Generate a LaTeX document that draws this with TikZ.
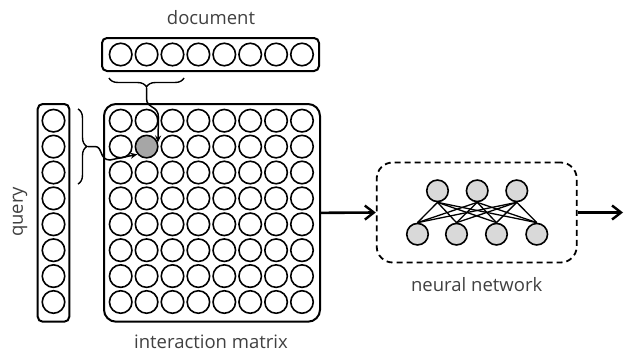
\documentclass[tikz,border=0pt]{standalone}
\usepackage{fontspec}
\setmainfont{Open Sans}
\usetikzlibrary{arrows.meta,decorations.pathreplacing}
\definecolor{txt}{HTML}{404040}
\definecolor{cellgrey}{HTML}{A6A6A6}
\definecolor{nngrey}{HTML}{D9D9D9}
\tikzset{
  cell/.style={circle,draw,line width=1.6pt,minimum size=22.5pt,inner sep=0pt},
  hot/.style={cell,fill=cellgrey},
  frame/.style={draw,line width=2pt,rounded corners=5pt,inner sep=0pt},
  nnbox/.style={draw,line width=1.8pt,dash pattern=on 6pt off 4pt,rounded corners=16pt,inner sep=0pt,minimum width=200pt,minimum height=100pt},
  neuron/.style={circle,draw,line width=1.6pt,fill=nngrey,minimum size=21.5pt,inner sep=0pt},
  edge/.style={line width=1.3pt},
  lbl/.style={text=txt,font=\fontsize{18.5}{22}\selectfont,inner sep=0pt},
  bigarrow/.style={line width=2.6pt,-{Straight Barb[length=9pt,width=14pt,line width=2.4pt]}},
  smallarrow/.style={line width=1.5pt,-{Stealth[length=7pt,width=6pt]}},
  bracestyle/.style={line width=1.4pt,decorate,decoration={brace,amplitude=9pt}}
}
\begin{document}
\begin{tikzpicture}[x=1pt,y=-1pt]
\useasboundingbox (0,0) rectangle (625,356);
% frames
\node[frame,minimum width=217pt,minimum height=33pt] (doc) at (210.5,54.5) {};
\node[frame,minimum width=31.6pt,minimum height=217.7pt] (qry) at (53.5,212.85) {};
\node[frame,rounded corners=12pt,minimum width=216pt,minimum height=217.7pt] (mat) at (212,212.85) {};
% document and query cells
\foreach \i in {0,...,7} {
  \node[cell] (d\i) at (120.7+25.9*\i,54.5) {};
  \node[cell] (q\i) at (53.5,120.7+25.9*\i) {};
}
% matrix cells
\foreach \i in {0,...,7} {
  \foreach \j in {0,...,7} {
    \ifnum\i=1 \ifnum\j=1 \else \node[cell] (m\i\j) at (120.7+25.9*\i,120.7+25.9*\j) {}; \fi
    \else \node[cell] (m\i\j) at (120.7+25.9*\i,120.7+25.9*\j) {}; \fi
  }
}
\node[hot] (m11) at (146.6,146.6) {};
% labels
\node[lbl] (ldoc) at (211,18) {document};
\node[lbl,rotate=90] (lq) at (20,212) {query};
\node[lbl] (lmat) at (211,342) {interaction matrix};
% braces
\coordinate (db1) at (184,78);
\coordinate (db2) at (109,78);
\draw[bracestyle] (db1) -- (db2);
\coordinate (qb1) at (78,109);
\coordinate (qb2) at (78,184);
\draw[bracestyle] (qb1) -- (qb2);
\coordinate (dtip) at (146.5,88);
\coordinate (qtip) at (88,146.5);
% small arrows
\draw[smallarrow] (dtip) -- (146.5,98) .. controls (146.5,110) and (158.5,104) .. (158.5,118) -- (m11.20);
\draw[smallarrow] (qtip) -- (95,146.5) .. controls (103,146.5) and (99,160) .. (110,160) -- (m11.220);
% neural network
\node[nnbox] (nn) at (476.7,212.5) {};
\node[neuron] (t1) at (437.5,190.8) {};
\node[neuron] (t2) at (477.2,190.8) {};
\node[neuron] (t3) at (516.8,190.8) {};
\node[neuron] (b1) at (417.5,234.2) {};
\node[neuron] (b2) at (456.5,234.2) {};
\node[neuron] (b3) at (496.5,234.2) {};
\node[neuron] (b4) at (536.8,234.2) {};
\foreach \t in {1,2,3} {
  \foreach \b in {1,2,3,4} {
    \draw[edge] (t\t.south) -- (b\b.north);
  }
}
\node[lbl] (lnn) at (476.7,285) {neural network};
% main arrows
\coordinate (out) at (623,212.5);
\draw[bigarrow] (mat.east) -- (nn.west);
\draw[bigarrow] (nn.east) -- (out);
\end{tikzpicture}
\end{document}
